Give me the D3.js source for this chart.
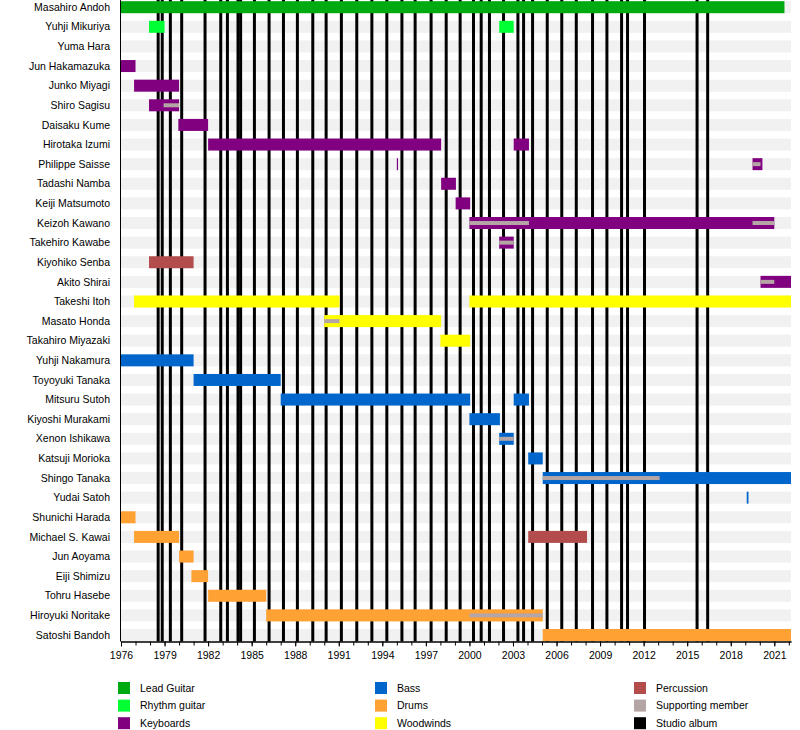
<!DOCTYPE html>
<html>
<head>
<meta charset="utf-8">
<script src="https://cdn.jsdelivr.net/npm/d3@7"></script>
<style>
  body { margin: 0; background: #fff; }
  text { font-family: "Liberation Sans", Arial, sans-serif; font-size: 10.5px; fill: #000; }
</style>
</head>
<body>
<svg id="chart" width="800" height="730"></svg>
<script>

// band members, top to bottom
const members = [
    "Masahiro Andoh", "Yuhji Mikuriya", "Yuma Hara", "Jun Hakamazuka", "Junko Miyagi",
    "Shiro Sagisu", "Daisaku Kume", "Hirotaka Izumi", "Philippe Saisse", "Tadashi Namba",
    "Keiji Matsumoto", "Keizoh Kawano", "Takehiro Kawabe", "Kiyohiko Senba", "Akito Shirai",
    "Takeshi Itoh", "Masato Honda", "Takahiro Miyazaki", "Yuhji Nakamura", "Toyoyuki Tanaka",
    "Mitsuru Sutoh", "Kiyoshi Murakami", "Xenon Ishikawa", "Katsuji Morioka", "Shingo Tanaka",
    "Yudai Satoh", "Shunichi Harada", "Michael S. Kawai", "Jun Aoyama", "Eiji Shimizu",
    "Tohru Hasebe", "Hiroyuki Noritake", "Satoshi Bandoh"
];

// legend entries (in column order) and their colours
const roles = ["Lead Guitar", "Rhythm guitar", "Keyboards", "Bass", "Drums", "Woodwinds",
    "Percussion", "Supporting member", "Studio album"];
const roleColors = ["#00aa11", "#00ff33", "#800080", "#0066cc", "#ffa133", "#ffff00",
    "#b34d4d", "#b5a5a5", "#000000"];

// [member, role, start, end]  (decimal years)
const periods = [
    ["Masahiro Andoh", "Lead Guitar", 1976, 2021.7],
    ["Yuhji Mikuriya", "Rhythm guitar", 1977.93, 1979.0],
    ["Yuhji Mikuriya", "Rhythm guitar", 2002.05, 2003.05],
    ["Jun Hakamazuka", "Keyboards", 1976, 1977.0],
    ["Junko Miyagi", "Keyboards", 1976.9, 1980.0],
    ["Shiro Sagisu", "Keyboards", 1977.93, 1980.0],
    ["Daisaku Kume", "Keyboards", 1979.95, 1982.0],
    ["Hirotaka Izumi", "Keyboards", 1982.0, 1998.05],
    ["Hirotaka Izumi", "Keyboards", 2003.05, 2004.1],
    ["Philippe Saisse", "Keyboards", 1995.0, 1995.08],
    ["Philippe Saisse", "Keyboards", 2019.5, 2020.18],
    ["Tadashi Namba", "Keyboards", 1998.05, 1999.07],
    ["Keiji Matsumoto", "Keyboards", 1999.05, 2000.05],
    ["Keizoh Kawano", "Keyboards", 2000.0, 2021.0],
    ["Takehiro Kawabe", "Keyboards", 2002.05, 2003.05],
    ["Kiyohiko Senba", "Percussion", 1977.93, 1981.0],
    ["Akito Shirai", "Keyboards", 2020.05, 2022.15],
    ["Takeshi Itoh", "Woodwinds", 1976.9, 1991.05],
    ["Takeshi Itoh", "Woodwinds", 2000.0, 2022.15],
    ["Masato Honda", "Woodwinds", 1990.0, 1998.05],
    ["Takahiro Miyazaki", "Woodwinds", 1998.0, 2000.05],
    ["Yuhji Nakamura", "Bass", 1976, 1981.0],
    ["Toyoyuki Tanaka", "Bass", 1981.0, 1987.0],
    ["Mitsuru Sutoh", "Bass", 1987.0, 2000.05],
    ["Mitsuru Sutoh", "Bass", 2003.05, 2004.1],
    ["Kiyoshi Murakami", "Bass", 2000.0, 2002.1],
    ["Xenon Ishikawa", "Bass", 2002.05, 2003.05],
    ["Katsuji Morioka", "Bass", 2004.05, 2005.05],
    ["Shingo Tanaka", "Bass", 2005.05, 2022.15],
    ["Yudai Satoh", "Bass", 2019.1, 2019.22],
    ["Shunichi Harada", "Drums", 1976, 1977.0],
    ["Michael S. Kawai", "Drums", 1976.9, 1980.0],
    ["Michael S. Kawai", "Percussion", 2004.05, 2008.1],
    ["Jun Aoyama", "Drums", 1980.0, 1981.0],
    ["Eiji Shimizu", "Drums", 1980.85, 1982.0],
    ["Tohru Hasebe", "Drums", 1982.0, 1986.0],
    ["Hiroyuki Noritake", "Drums", 1986.0, 2005.05],
    ["Satoshi Bandoh", "Drums", 2005.05, 2022.15]
];

// supporting-member spans drawn as a thin bar on top  [member, start, end]
const supportPeriods = [
    ["Shiro Sagisu", 1978.93, 1980.0],
    ["Philippe Saisse", 2019.5, 2020.05],
    ["Keizoh Kawano", 2000.0, 2004.1],
    ["Keizoh Kawano", 2019.5, 2021.0],
    ["Takehiro Kawabe", 2002.05, 2003.05],
    ["Akito Shirai", 2020.05, 2021.0],
    ["Masato Honda", 1990.0, 1991.05],
    ["Xenon Ishikawa", 2002.05, 2003.05],
    ["Shingo Tanaka", 2005.05, 2013.1],
    ["Hiroyuki Noritake", 2000.0, 2005.05]
];

// studio album release dates
const albums = [
    1978.56, 1978.84, 1979.40, 1980.18, 1981.79, 1982.87, 1983.33, 1984.06, 1984.24,
    1985.19, 1986.20, 1987.19, 1988.15, 1989.21, 1990.13, 1991.18, 1992.24, 1993.28,
    1994.31, 1995.35, 1996.26, 1997.36, 1998.40, 1999.36, 2000.28, 2000.81, 2001.38,
    2002.35, 2003.34, 2003.73, 2004.35, 2005.36, 2006.36, 2007.36, 2008.48, 2009.47,
    2010.48, 2010.89, 2012.06, 2015.68, 2016.41
];

const tickYears = [1976, 1979, 1982, 1985, 1988, 1991, 1994, 1997, 2000, 2003, 2006,
    2009, 2012, 2015, 2018, 2021];

const startYear = 1976, endYear = 2022.15;
const barHeight = 12;
const axisY = 641.5;

const svg = d3.select("#chart");

const xScale = d3.scaleLinear()
    .domain([startYear, endYear])
    .range([121, 791]);

// row centres
const yScale = d3.scalePoint()
    .domain(members)
    .range([7.2, 635]);

const colorScale = d3.scaleOrdinal()
    .domain(roles)
    .range(roleColors);

//light grey lane behind every member
svg.append("g").attr("class", "lanes")
    .selectAll("rect")
    .data(members).join("rect")
    .attr("x", xScale(startYear))
    .attr("y", d => yScale(d) - barHeight / 2)
    .attr("width", xScale(endYear) - xScale(startYear))
    .attr("height", barHeight)
    .attr("fill", "#f1f1f1");

//studio album lines
svg.append("g").attr("class", "albums")
    .selectAll("line")
    .data(albums).join("line")
    .attr("x1", d => xScale(d))
    .attr("x2", d => xScale(d))
    .attr("y1", 0)
    .attr("y2", axisY)
    .attr("stroke", colorScale("Studio album"))
    .attr("stroke-width", 3);

//membership bars
svg.append("g").attr("class", "bars")
    .selectAll("rect")
    .data(periods).join("rect")
    .attr("x", d => xScale(d[2]))
    .attr("y", d => yScale(d[0]) - barHeight / 2)
    .attr("width", d => Math.max(1.2, xScale(d[3]) - xScale(d[2])))
    .attr("height", barHeight)
    .attr("fill", d => colorScale(d[1]));

//supporting member overlay
svg.append("g").attr("class", "support")
    .selectAll("rect")
    .data(supportPeriods).join("rect")
    .attr("x", d => xScale(d[1]))
    .attr("y", d => yScale(d[0]) - 2)
    .attr("width", d => xScale(d[2]) - xScale(d[1]))
    .attr("height", 4)
    .attr("fill", colorScale("Supporting member"));

//member names
svg.append("g").attr("class", "names")
    .selectAll("text")
    .data(members).join("text")
    .attr("x", 110)
    .attr("y", d => yScale(d))
    .attr("dy", "0.35em")
    .attr("text-anchor", "end")
    .text(d => d);

//left axis line
svg.append("line")
    .attr("x1", 120.5).attr("x2", 120.5)
    .attr("y1", 0).attr("y2", axisY)
    .attr("stroke", "#000")
    .attr("stroke-width", 1);

//bottom axis: yearly minor ticks, labelled every 3 years
const axisG = svg.append("g")
    .attr("transform", `translate(0,${axisY})`);

axisG.append("g")
    .call(d3.axisBottom(xScale)
        .tickValues(d3.range(1976, 2023))
        .tickSize(4)
        .tickSizeOuter(0)
        .tickFormat(""));

axisG.append("g")
    .call(d3.axisBottom(xScale)
        .tickValues(tickYears)
        .tickSize(5)
        .tickSizeOuter(0)
        .tickFormat(d => d));

axisG.selectAll("path.domain").attr("stroke", "#000");
axisG.selectAll("text")
    .attr("font-family", "'Liberation Sans', Arial, sans-serif")
    .attr("font-size", "10.5px")
    .attr("fill", "#000")
    .attr("y", 10);

//legend in three columns
const legendCols = [118, 375, 634];
const legend = svg.append("g").attr("class", "legend")
    .selectAll("g")
    .data(roles).join("g")
    .attr("transform", (d, i) => `translate(${legendCols[Math.floor(i / 3)]},${682 + (i % 3) * 17.6})`);

legend.append("rect")
    .attr("width", 12)
    .attr("height", 12)
    .attr("fill", d => colorScale(d));

legend.append("text")
    .attr("x", 22)
    .attr("y", 6)
    .attr("dy", "0.35em")
    .text(d => d);

</script>
</body>
</html>
